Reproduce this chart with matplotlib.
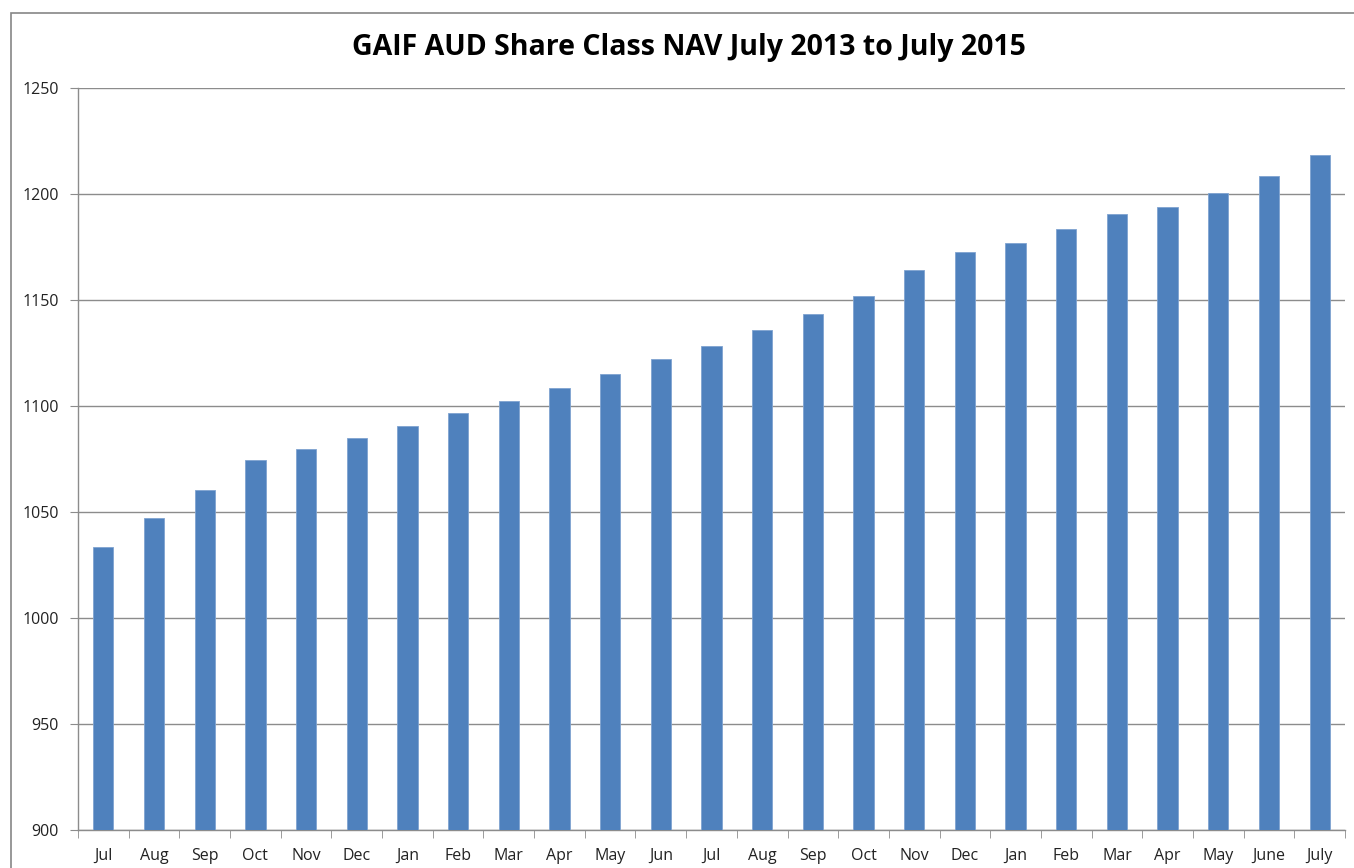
import matplotlib
matplotlib.use("Agg")
import matplotlib.pyplot as plt
from matplotlib.patches import Rectangle

months = ["Jul", "Aug", "Sep", "Oct", "Nov", "Dec", "Jan", "Feb", "Mar", "Apr", "May", "Jun",
          "Jul", "Aug", "Sep", "Oct", "Nov", "Dec", "Jan", "Feb", "Mar", "Apr", "May", "June", "July"]
nav = [1033.5, 1047, 1060.5, 1074.5, 1079.5, 1085, 1090.5, 1096.5, 1102.5, 1108.5, 1115, 1122,
       1128.5, 1136, 1143.5, 1152, 1164, 1172.5, 1177, 1183.5, 1190.5, 1194, 1200.5, 1208.5, 1218.5]
yticks = [900, 950, 1000, 1050, 1100, 1150, 1200, 1250]

plt.rcParams['font.family'] = ['Open Sans', 'DejaVu Sans']

W, H = 1354, 868
fig = plt.figure(figsize=(W / 100, H / 100), dpi=100)
ax = fig.add_axes([78 / W, 1 - 830 / H, (1345 - 78) / W, (830 - 88) / H])

# outer chart border
fig.patches.append(Rectangle((11 / W, -0.05), 1.2, 1 - 13 / H + 0.05, transform=fig.transFigure,
                             fill=False, edgecolor="#868686", linewidth=1.2))

x = list(range(len(months)))
ax.bar(x, nav, width=0.4, color="#4F81BD", edgecolor="#7FA3D0", linewidth=0.6, zorder=3)

ax.set_ylim(900, 1250)
ax.set_xlim(-0.5, len(months) - 0.5)
ax.set_yticks(yticks)
ax.set_yticklabels([str(v) for v in yticks])
ax.yaxis.grid(True, color="#8C8C8C", linewidth=1.0, zorder=0)
ax.set_axisbelow(True)

ax.set_xticks(x)
ax.set_xticklabels(months)
ax.set_xticks([i + 0.5 for i in range(-1, len(months))], minor=True)
ax.tick_params(axis="x", which="major", length=0, pad=13, labelsize=11.5, colors="#222222")
ax.tick_params(axis="x", which="minor", length=6, color="#8C8C8C", direction="out")
ax.tick_params(axis="y", length=6, color="#8C8C8C", direction="out", pad=8, labelsize=11.5,
               labelcolor="#222222")

for s in ["top", "right"]:
    ax.spines[s].set_visible(False)
for s in ["left", "bottom"]:
    ax.spines[s].set_color("#8C8C8C")
    ax.spines[s].set_linewidth(1.0)

fig.text(689 / W, 1 - 47 / H, "GAIF AUD Share Class NAV July 2013 to July 2015",
         ha="center", va="center", fontsize=20.5, fontweight="bold", color="black")

fig.savefig("out.png", dpi=100)
